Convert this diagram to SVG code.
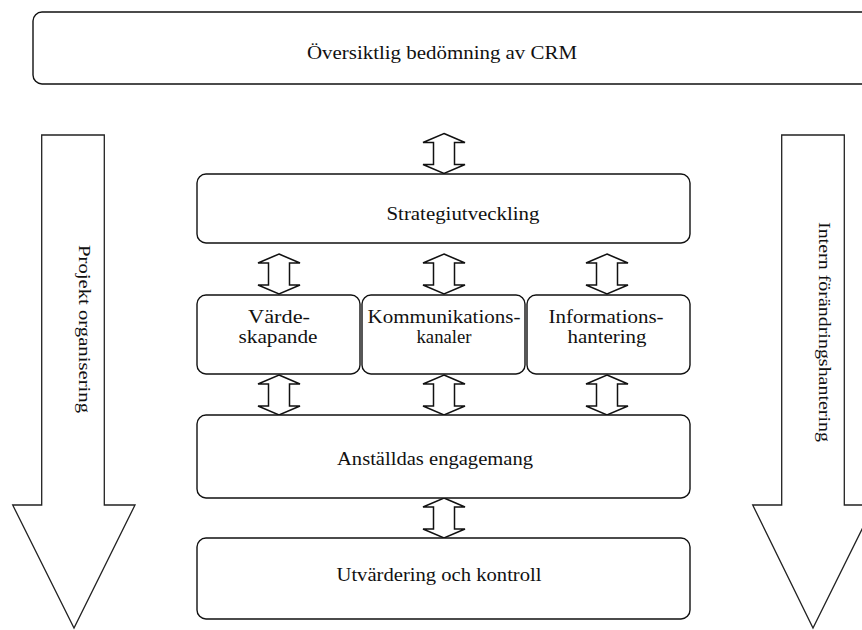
<svg xmlns="http://www.w3.org/2000/svg" xmlns:xlink="http://www.w3.org/1999/xlink" width="862" height="630" viewBox="0 0 862 630">
<style>
.box{fill:#fff;stroke:#111;stroke-width:1.4}
.big{fill:#fff;stroke:#222;stroke-width:1.3;stroke-linejoin:miter}
.dbl{fill:#fff;stroke:#111;stroke-width:1.5;stroke-linejoin:miter}
.t{font-family:"Liberation Serif","Times New Roman",serif;font-size:19px;fill:#111;text-anchor:middle}
.v{font-family:"Liberation Serif","Times New Roman",serif;font-size:16px;fill:#111;text-anchor:middle}
</style>
<defs>
<path id="dbl" d="M0,0 L21,9 L10.5,9 L10.5,31 L21,31 L0,40 L-21,31 L-10.5,31 L-10.5,9 L-21,9 Z"/>
</defs>
<rect width="862" height="630" fill="#fff"/>

<g id="connectors" class="dbl">
<use xlink:href="#dbl" href="#dbl" x="444" y="133.5"/>
<use xlink:href="#dbl" href="#dbl" x="279" y="254"/>
<use xlink:href="#dbl" href="#dbl" x="444" y="254"/>
<use xlink:href="#dbl" href="#dbl" x="607" y="254"/>
<use xlink:href="#dbl" href="#dbl" x="279" y="375"/>
<use xlink:href="#dbl" href="#dbl" x="444" y="375"/>
<use xlink:href="#dbl" href="#dbl" x="607" y="375"/>
<use xlink:href="#dbl" href="#dbl" x="444" y="498"/>
</g>

<g id="overview">
<rect class="box" x="33" y="12" width="850" height="72" rx="9"/>
<text class="t" x="442" y="59" textLength="270" lengthAdjust="spacingAndGlyphs">Översiktlig bedömning av CRM</text>
</g>

<g id="projekt">
<polygon class="big" points="41.7,135 104.3,135 104.3,505 135,505 74,628 12.7,505 41.7,505"/>
<text class="v" transform="translate(78.5,329) rotate(90)" textLength="168" lengthAdjust="spacingAndGlyphs">Projekt organisering</text>
</g>

<g id="intern">
<polygon class="big" points="781.7,135 844.3,135 844.3,505 874,505 813,628 752.7,505 781.7,505"/>
<text class="v" transform="translate(818.5,332) rotate(90)" textLength="220" lengthAdjust="spacingAndGlyphs">Intern förändringshantering</text>
</g>

<g id="strategi">
<rect class="box" x="197" y="174" width="493" height="69" rx="9"/>
<text class="t" x="463" y="220" textLength="153" lengthAdjust="spacingAndGlyphs">Strategiutveckling</text>
</g>

<g id="varde">
<rect class="box" x="197" y="295" width="163" height="79" rx="9"/>
<text class="t" x="279" y="323" textLength="62" lengthAdjust="spacingAndGlyphs">Värde-</text>
<text class="t" x="278" y="343" textLength="79" lengthAdjust="spacingAndGlyphs">skapande</text>
</g>

<g id="kommunikation">
<rect class="box" x="362" y="295" width="163" height="79" rx="9"/>
<text class="t" x="444" y="323" textLength="153" lengthAdjust="spacingAndGlyphs">Kommunikations-</text>
<text class="t" x="444" y="343" textLength="55" lengthAdjust="spacingAndGlyphs">kanaler</text>
</g>

<g id="information">
<rect class="box" x="527" y="295" width="163" height="79" rx="9"/>
<text class="t" x="606" y="323" textLength="115" lengthAdjust="spacingAndGlyphs">Informations-</text>
<text class="t" x="607" y="343" textLength="79" lengthAdjust="spacingAndGlyphs">hantering</text>
</g>

<g id="anstalldas">
<rect class="box" x="197" y="415" width="493" height="83" rx="9"/>
<text class="t" x="435" y="465" textLength="196" lengthAdjust="spacingAndGlyphs">Anställdas engagemang</text>
</g>

<g id="utvardering">
<rect class="box" x="197" y="538" width="493" height="81" rx="9"/>
<text class="t" x="439" y="581" textLength="205" lengthAdjust="spacingAndGlyphs">Utvärdering och kontroll</text>
</g>
</svg>
